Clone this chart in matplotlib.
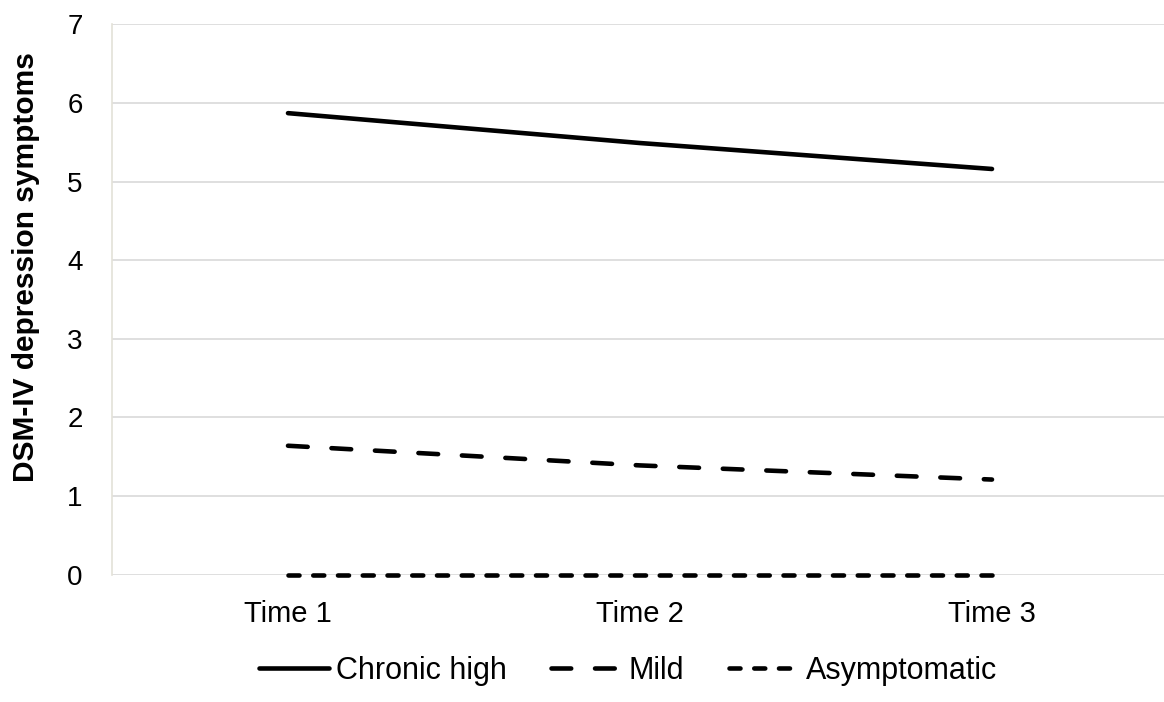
import matplotlib
matplotlib.use("Agg")
import matplotlib.pyplot as plt

plt.rcParams['font.family'] = ['Liberation Sans', 'DejaVu Sans']

categories = ["Time 1", "Time 2", "Time 3"]
chronic_high = [5.87, 5.49, 5.16]
mild = [1.64, 1.39, 1.21]
asymptomatic = [0.0, 0.0, 0.0]
yticks = [0, 1, 2, 3, 4, 5, 6, 7]

fig = plt.figure(figsize=(11.64, 7.02), dpi=100)
ax = fig.add_axes([112/1164, 1-574.7/702, 1056/1164, (574.7-24.3)/702])

x = range(len(categories))
lw = 3.3
ax.plot(x, chronic_high, color='black', lw=lw, solid_capstyle='round', label='Chronic high')
ax.plot(x, mild, color='black', lw=lw, ls=(0, (4.3, 5.2)), dash_capstyle='round', label='Mild')
ax.plot(x, asymptomatic, color='black', lw=lw, ls=(0, (2.4, 3.0)), dash_capstyle='round', label='Asymptomatic', clip_on=False)

ax.set_xlim(-0.5, 2.5)
ax.set_ylim(0, 7)
ax.set_yticks(yticks)
ax.set_xticks(list(x))
ax.set_xticklabels(categories)
ax.grid(axis='y', color='#d9d9d9', lw=1.2)
ax.set_axisbelow(True)
for s in ['top', 'right', 'bottom']:
    ax.spines[s].set_visible(False)
ax.spines['left'].set_color('#e3e1d8')
ax.spines['left'].set_linewidth(1.2)
ax.tick_params(axis='both', length=0, labelsize=20, colors='black')
ax.tick_params(axis='x', labelsize=21, pad=18)
ax.tick_params(axis='y', pad=21)

fig.text(26/1164, 1-267/702, 'DSM-IV depression symptoms', rotation=90, fontsize=21.5,
         fontweight='bold', ha='center', va='center')

leg = fig.legend(loc='center', bbox_to_anchor=(628/1164, 1-671/702), ncol=3, frameon=False,
                 fontsize=22, handlelength=2.3, handletextpad=0.23, columnspacing=1.45)

fig.savefig('out.png', dpi=100)
